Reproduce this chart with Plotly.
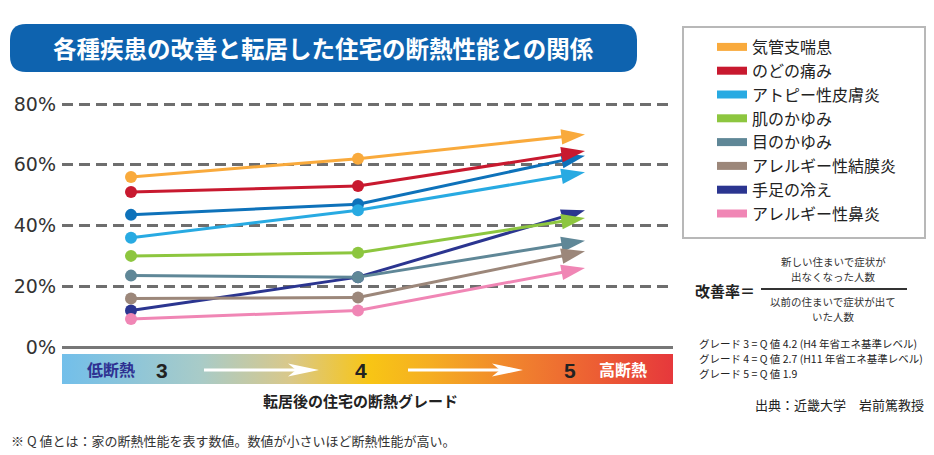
import plotly.graph_objects as go

# ---------------- data ----------------
grades = [3, 4, 5]
names = ["気管支喘息", "のどの痛み", "アトピー性皮膚炎", "肌のかゆみ", "目のかゆみ",
         "アレルギー性結膜炎", "手足の冷え", "アレルギー性鼻炎"]
asthma = [56, 62, 70]
throat = [51, 53, 64.5]
atopy = [36, 45, 57.5]
skin_itch = [30, 31, 42.5]
eye_itch = [23.5, 23, 35]
conjunctivitis = [16, 16.3, 31.5]
cold_limbs = [12, 23, 45]
rhinitis = [9.2, 12, 26]
unlabeled = [43.5, 47, 63]   # blue line drawn in the chart without a legend entry

colors = ["#F9AA3C", "#C8192F", "#28AAE2", "#8DC63F", "#5F8797",
          "#9C877A", "#2B3590", "#F086B5"]
unlabeled_color = "#0E72BA"

ytick_vals = [0, 20, 40, 60, 80]
ytick_text = ["0%", "20%", "40%", "60%", "80%"]

# ---------------- layout helpers ----------------
W, H = 934, 455
ML, MR, MT, MB = 62, 261, 90, 71
PW, PH = W - ML - MR, H - MT - MB


def xp(px):
    return (px - ML) / PW


def yp(py):
    return (H - MB - py) / PH


JP = "Noto Sans CJK JP"

fig = go.Figure()

series = [asthma, throat, atopy, skin_itch, eye_itch, conjunctivitis, cold_limbs, rhinitis]
draw_order = [6, -1, 0, 1, 2, 3, 4, 5, 7]
for i in draw_order:
    if i == -1:
        vals, col = unlabeled, unlabeled_color
    else:
        vals, col = series[i], colors[i]
    # segment grade 3 -> 4 with round markers
    fig.add_trace(go.Scatter(
        x=grades[:2], y=vals[:2], mode="lines+markers",
        line=dict(color=col, width=3),
        marker=dict(color=col, size=12, symbol="circle", opacity=1, line=dict(width=0)),
        showlegend=False, hoverinfo="skip"))
    # segment grade 4 -> 5 ending in an arrow head
    fig.add_trace(go.Scatter(
        x=grades[1:], y=vals[1:], mode="lines+markers",
        line=dict(color=col, width=3),
        marker=dict(color=col, size=[0, 25], symbol=["circle", "arrow"], opacity=1,
                    angleref="previous", line=dict(width=0)),
        showlegend=False, hoverinfo="skip"))

# legend entries
for n, c in zip(names, colors):
    fig.add_trace(go.Scatter(x=[None], y=[None], mode="lines", name=n,
                             line=dict(color=c, width=8), showlegend=True))

# gradient bar on overlay axes
fig.add_trace(go.Scatter(
    x=[0, 1, 1, 0, 0], y=[0, 0, 1, 1, 0], xaxis="x2", yaxis="y2",
    mode="lines", fill="toself", line=dict(width=0),
    fillgradient=dict(type="horizontal", colorscale=[
        [0, "#72BFEA"], [0.226, "#A8CBC8"], [0.373, "#D9C88A"], [0.504, "#F8C515"],
        [0.602, "#F5AE22"], [0.75, "#F0812E"], [0.88, "#EC5C34"], [1, "#E6383C"]]),
    showlegend=False, hoverinfo="skip"))

# axis ranges from pixel targets
ppu_y = (347 - 104) / 80
y_bottom_px, y_top_px = 350, MT
yr = [-(y_bottom_px - 347) / ppu_y, 80 + (104 - y_top_px) / ppu_y]
ppu_x = (585 - 131) / 2
xr = [3 - (131 - ML) / ppu_x, 5 + (ML + PW - 585) / ppu_x]

shapes = []
annotations = []

# title bar (rounded)
x0, x1, y0, y1, r = 10, 637, 24, 72, 16
path = (f"M{xp(x0 + r)},{yp(y0)} L{xp(x1 - r)},{yp(y0)} Q{xp(x1)},{yp(y0)} {xp(x1)},{yp(y0 + r)} "
        f"L{xp(x1)},{yp(y1 - r)} Q{xp(x1)},{yp(y1)} {xp(x1 - r)},{yp(y1)} "
        f"L{xp(x0 + r)},{yp(y1)} Q{xp(x0)},{yp(y1)} {xp(x0)},{yp(y1 - r)} "
        f"L{xp(x0)},{yp(y0 + r)} Q{xp(x0)},{yp(y0)} {xp(x0 + r)},{yp(y0)} Z")
shapes.append(dict(type="path", xref="paper", yref="paper", path=path,
                   fillcolor="#0E63AF", line=dict(width=0), layer="below"))
annotations.append(dict(text="<b>各種疾患の改善と転居した住宅の断熱性能との関係</b>",
                        x=xp(323.5), y=yp(48), xref="paper", yref="paper", showarrow=False,
                        xanchor="center", yanchor="middle",
                        font=dict(family=JP, size=23.5, color="white")))

# legend box
shapes.append(dict(type="rect", xref="paper", yref="paper", x0=xp(683), x1=xp(925),
                   y0=yp(27), y1=yp(238), line=dict(color="#B8B8B8", width=2),
                   fillcolor="rgba(0,0,0,0)"))

# formula
annotations.append(dict(text="<b>改善率＝</b>", x=xp(693), y=yp(290), xref="paper", yref="paper",
                        showarrow=False, xanchor="left", yanchor="middle",
                        font=dict(family=JP, size=15, color="#222")))
for t, yy in [("新しい住まいで症状が", 261), ("出なくなった人数", 276),
              ("以前の住まいで症状が出て", 301), ("いた人数", 316)]:
    annotations.append(dict(text=t, x=xp(833), y=yp(yy), xref="paper", yref="paper",
                            showarrow=False, xanchor="center", yanchor="middle",
                            font=dict(family=JP, size=10.5, color="#333")))
shapes.append(dict(type="line", xref="paper", yref="paper", x0=xp(761), x1=xp(907),
                   y0=yp(289), y1=yp(289), line=dict(color="#333", width=1.8)))
for t, yy in [("グレード 3 = Q 値 4.2 (H4 年省エネ基準レベル)", 343),
              ("グレード 4 = Q 値 2.7 (H11 年省エネ基準レベル)", 358),
              ("グレード 5 = Q 値 1.9", 373)]:
    annotations.append(dict(text=t, x=xp(697), y=yp(yy), xref="paper", yref="paper",
                            showarrow=False, xanchor="left", yanchor="middle",
                            font=dict(family=JP, size=10.5, color="#222")))
annotations.append(dict(text="出典：近畿大学　岩前篤教授", x=xp(926), y=yp(404), xref="paper",
                        yref="paper", showarrow=False, xanchor="right", yanchor="middle",
                        font=dict(family=JP, size=13, color="#222")))

# bar labels
annotations.append(dict(text="<b>低断熱</b>", x=xp(111), y=yp(369), xref="paper", yref="paper",
                        showarrow=False, xanchor="center", yanchor="middle",
                        font=dict(family=JP, size=16, color="#2E3192")))
annotations.append(dict(text="<b>高断熱</b>", x=xp(623), y=yp(369), xref="paper", yref="paper",
                        showarrow=False, xanchor="center", yanchor="middle",
                        font=dict(family=JP, size=16, color="white")))
for t, xx in [("3", 162), ("4", 361), ("5", 570)]:
    annotations.append(dict(text=f"<b>{t}</b>", x=xp(xx), y=yp(370), xref="paper", yref="paper",
                            showarrow=False, xanchor="center", yanchor="middle",
                            font=dict(family="Liberation Sans", size=21, color="#222")))
# white arrows in bar
for xa, xb in [(204, 319), (408, 523)]:
    shapes.append(dict(type="line", xref="paper", yref="paper", x0=xp(xa), x1=xp(xb - 20),
                       y0=yp(370), y1=yp(370), line=dict(color="white", width=3)))
    hp = (f"M{xp(xb)},{yp(370)} L{xp(xb - 31)},{yp(363.5)} L{xp(xb - 23)},{yp(370)} "
          f"L{xp(xb - 31)},{yp(376.5)} Z")
    shapes.append(dict(type="path", xref="paper", yref="paper", path=hp,
                       fillcolor="white", line=dict(width=0)))

annotations.append(dict(text="<b>転居後の住宅の断熱グレード</b>", x=xp(360), y=yp(400),
                        xref="paper", yref="paper", showarrow=False, xanchor="center",
                        yanchor="middle", font=dict(family=JP, size=15, color="#222")))
annotations.append(dict(text="※ Q 値とは：家の断熱性能を表す数値。数値が小さいほど断熱性能が高い。",
                        x=xp(9), y=yp(441), xref="paper", yref="paper", showarrow=False,
                        xanchor="left", yanchor="middle",
                        font=dict(family=JP, size=13, color="#333")))

fig.update_layout(
    width=W, height=H, margin=dict(l=ML, r=MR, t=MT, b=MB),
    paper_bgcolor="white", plot_bgcolor="white",
    xaxis=dict(range=xr, visible=False, domain=[0, 1]),
    yaxis=dict(range=yr, domain=[yp(y_bottom_px), 1], tickvals=ytick_vals, ticktext=ytick_text,
               showgrid=True, gridcolor="#6E6E6E", gridwidth=3, griddash="11px,6px",
               zeroline=True, zerolinecolor="#777", zerolinewidth=3,
               showline=False, ticks="", ticklabelstandoff=5,
               tickfont=dict(family="DejaVu Sans", size=19, color="#333")),
    xaxis2=dict(range=[0, 1], domain=[0, 1], anchor="y2", visible=False),
    yaxis2=dict(range=[0, 1], domain=[0, yp(354)], anchor="x2", visible=False),
    legend=dict(x=xp(712), y=yp(30), xanchor="left", yanchor="top",
                bgcolor="rgba(0,0,0,0)", borderwidth=0, tracegroupgap=0,
                font=dict(family=JP, size=16, color="#222")),
    shapes=shapes, annotations=annotations, showlegend=True,
)

fig.write_html("out.html", config={"displayModeBar": False},
               post_script="document.body.style.margin='0';")
